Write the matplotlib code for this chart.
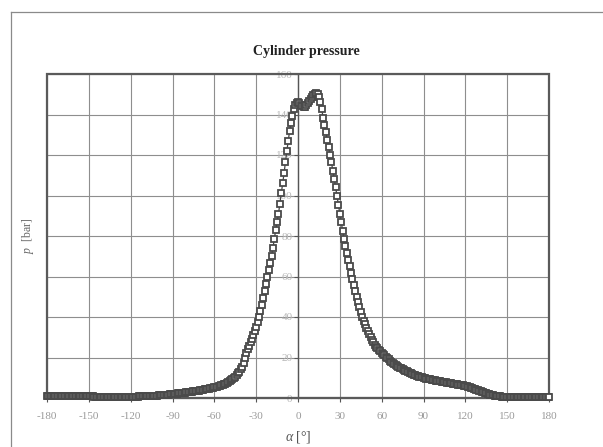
import numpy as np
import matplotlib
matplotlib.use("Agg")
import matplotlib.pyplot as plt
from matplotlib.patches import Rectangle
from matplotlib.lines import Line2D

plt.rcParams['font.family'] = ['Liberation Serif', 'DejaVu Serif']
plt.rcParams['mathtext.fontset'] = 'custom'
plt.rcParams['mathtext.it'] = 'Liberation Serif:italic'
plt.rcParams['mathtext.rm'] = 'Liberation Serif'
plt.rcParams['axes.unicode_minus'] = False

# crank angle in degrees, 1 deg step
angle = np.arange(-180, 181)

# cylinder pressure [bar]
pressure = [
    1.2, 1.2, 1.2, 1.2, 1.2, 1.2, 1.2, 1.2, 1.2, 1.2, 1.2,
    1.2, 1.2, 1.1, 1.1, 1.1, 1.1, 1.1, 1.1, 1.1, 1.0,
    1.0, 1.0, 1.0, 1.0, 0.9, 0.9, 0.9, 0.9, 0.9, 0.8,
    0.8, 0.8, 0.8, 0.7, 0.7, 0.7, 0.7, 0.6, 0.6, 0.6,
    0.6, 0.6, 0.5, 0.5, 0.5, 0.5, 0.5, 0.5, 0.5, 0.5,
    0.5, 0.5, 0.5, 0.5, 0.5, 0.5, 0.6, 0.6, 0.6, 0.6,
    0.6, 0.7, 0.7, 0.7, 0.7, 0.8, 0.8, 0.8, 0.9, 0.9,
    0.9, 1.0, 1.0, 1.0, 1.1, 1.1, 1.2, 1.2, 1.2, 1.3,
    1.3, 1.4, 1.4, 1.5, 1.6, 1.6, 1.7, 1.8, 1.9, 2.0,
    2.0, 2.1, 2.2, 2.3, 2.3, 2.4, 2.5, 2.6, 2.7, 2.8,
    2.9, 3.0, 3.1, 3.2, 3.3, 3.4, 3.5, 3.6, 3.7, 3.8,
    3.9, 4.0, 4.2, 4.3, 4.4, 4.5, 4.7, 4.8, 5.0, 5.2,
    5.4, 5.6, 5.8, 6.0, 6.3, 6.5, 6.8, 7.1, 7.5, 8.0,
    8.4, 8.9, 9.4, 10.0, 10.6, 11.3, 12.1, 13.0, 14.1, 15.5,
    17.5, 19.8, 22.0, 24.0, 25.8, 27.5, 29.3, 31.2, 33.1, 35.0,
    37.4, 40.0, 42.8, 46.0, 49.4, 53.0, 56.5, 60.0, 63.2, 66.5,
    70.0, 74.0, 78.5, 83.0, 87.0, 91.0, 96.0, 101.0, 106.0, 111.0,
    116.5, 122.0, 127.0, 132.0, 136.0, 139.5, 142.5, 144.5, 145.8, 146.2,
    145.6, 144.8, 144.0, 143.6, 143.8, 144.6, 145.6, 146.6, 147.6, 148.5,
    149.4, 150.1, 150.5, 150.0, 148.5, 146.0, 142.5, 138.5, 134.8, 131.2,
    127.6, 124.0, 120.2, 116.3, 112.3, 108.2, 104.0, 99.6, 95.2, 91.0,
    86.8, 82.6, 78.6, 75.0, 71.6, 68.3, 65.0, 61.8, 58.7, 55.7,
    52.8, 50.0, 47.4, 44.9, 42.4, 40.2, 38.2, 36.3, 34.5, 32.9,
    31.4, 30.0, 28.7, 27.5, 26.4, 25.4, 24.6, 23.8, 23.1, 22.4,
    21.7, 21.0, 20.3, 19.7, 19.1, 18.5, 17.9, 17.3, 16.8, 16.3,
    15.8, 15.4, 15.0, 14.6, 14.2, 13.8, 13.4, 13.1, 12.8, 12.5,
    12.2, 11.9, 11.6, 11.4, 11.1, 10.9, 10.6, 10.4, 10.2, 10.0,
    9.8, 9.6, 9.5, 9.3, 9.2, 9.0, 8.9, 8.7, 8.6, 8.5,
    8.3, 8.2, 8.1, 8.0, 7.8, 7.7, 7.6, 7.5, 7.3, 7.2,
    7.1, 7.0, 6.8, 6.7, 6.6, 6.5, 6.3, 6.2, 6.0, 5.9,
    5.7, 5.5, 5.3, 5.1, 4.9, 4.6, 4.4, 4.1, 3.9, 3.6,
    3.3, 3.1, 2.8, 2.6, 2.4, 2.1, 1.9, 1.7, 1.5, 1.4,
    1.2, 1.1, 1.0, 0.9, 0.8, 0.7, 0.7, 0.6, 0.6, 0.6,
    0.6, 0.6, 0.6, 0.6, 0.6, 0.6, 0.6, 0.6, 0.6, 0.6,
    0.6, 0.6, 0.6, 0.6, 0.6, 0.6, 0.6, 0.6, 0.6, 0.6,
    0.6, 0.6, 0.6, 0.6, 0.6, 0.6, 0.6, 0.6, 0.6, 0.6,
]

x_ticks = list(range(-180, 181, 30))
y_ticks = list(range(0, 161, 20))

W, H = 603, 447
fig = plt.figure(figsize=(W / 100, H / 100), dpi=100)
ax = fig.add_axes([47 / W, 1 - 398 / H, 502 / W, 324 / H])

ax.plot(angle, pressure, color='#444444', lw=0.9, marker='s', ms=3.8,
        mfc='white', mec='#4a4a4a', mew=1.3, clip_on=False, zorder=5)

ax.set_xlim(-180, 180)
ax.set_ylim(0, 160)
ax.set_xticks(x_ticks)
ax.set_yticks(y_ticks)
ax.grid(True, color='#8e8e8e', lw=0.8)
ax.set_axisbelow(True)

# y axis drawn at alpha = 0
ax.spines['left'].set_position(('data', 0))
ax.spines['left'].set_color('#555555')
ax.spines['left'].set_linewidth(1.0)
ax.spines['bottom'].set_color('#505050')
ax.spines['bottom'].set_linewidth(1.5)
ax.spines['top'].set_visible(False)
ax.spines['right'].set_visible(False)
ax.add_patch(Rectangle((0, 0), 1, 1, transform=ax.transAxes, fill=False,
                       ec='#5a5a5a', lw=1.6, zorder=4, clip_on=False))

ax.tick_params(axis='x', direction='out', length=3, width=0.8, color='#555555',
               labelsize=8, labelcolor='#9a9a9a', pad=7)
ax.tick_params(axis='y', direction='out', length=3, width=0.8, color='#555555',
               labelsize=8, labelcolor='#b8b8b8', pad=1)

fig.text(306 / W, 1 - 52 / H, 'Cylinder pressure', ha='center', va='center',
         fontsize=10, fontweight='bold', color='#222222')
fig.text(298 / W, 1 - 437 / H, r'$\alpha$ [°]', ha='center', va='center',
         fontsize=10, color='#555555')
fig.text(28 / W, 1 - 236 / H, r'$p$  [bar]', ha='center', va='center',
         fontsize=8.5, color='#666666', rotation=90)

# outer chart frame
fig.add_artist(Line2D([10.5 / W, 10.5 / W], [1 - 12 / H, 0], color='#8a8a8a', lw=0.9))
fig.add_artist(Line2D([10.5 / W, 1], [1 - 12 / H, 1 - 12 / H], color='#8a8a8a', lw=0.9))

fig.savefig('out.png', dpi=100)
